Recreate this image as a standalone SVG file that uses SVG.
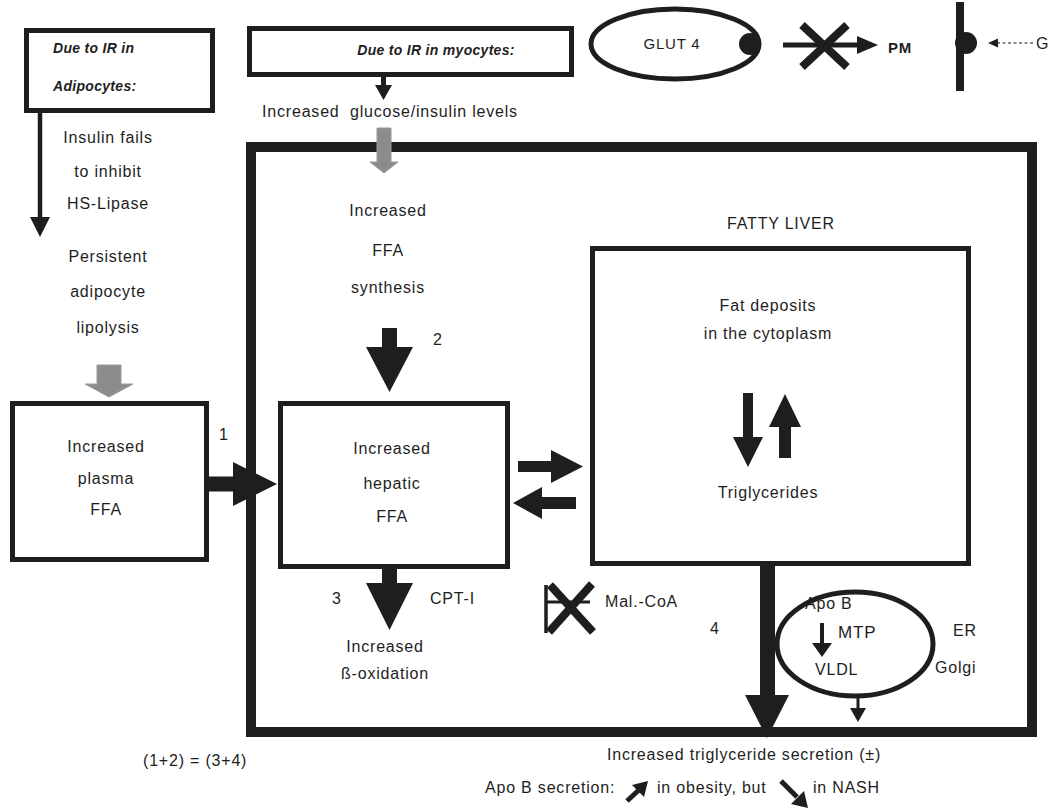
<svg xmlns="http://www.w3.org/2000/svg" width="1052" height="808" viewBox="0 0 1052 808">
<style>
.t{font-family:"Liberation Sans",Arial,Helvetica,sans-serif;font-size:16px;fill:#1e1e1e;letter-spacing:0.8px}
.c{text-anchor:middle}
.h{font-family:"Liberation Sans",Arial,Helvetica,sans-serif;font-size:14px;font-weight:bold;font-style:italic;fill:#1e1e1e;letter-spacing:0.3px}
.b{font-weight:bold}
.box{fill:none;stroke:#1e1e1e;stroke-width:5}
.blk{fill:#1e1e1e;stroke:none}
.gry{fill:#8c8c8c;stroke:#9a9a9a;stroke-width:1}
.ln{stroke:#1e1e1e;fill:none}
</style>
<rect width="1052" height="808" fill="#ffffff"/>

<g id="adipocytes">
<rect class="box" x="26.5" y="30.5" width="186" height="80"/>
<text class="h" x="53" y="53">Due to IR in</text>
<text class="h" x="53" y="91">Adipocytes:</text>
</g>

<g id="adipocyte-notes">
<text class="t c" x="108" y="143">Insulin fails</text>
<text class="t c" x="108" y="177">to inhibit</text>
<text class="t c" x="108" y="209">HS-Lipase</text>
<text class="t c" x="108" y="262">Persistent</text>
<text class="t c" x="108" y="297">adipocyte</text>
<text class="t c" x="108" y="333">lipolysis</text>
</g>

<g id="myocytes">
<rect class="box" x="249.5" y="28.5" width="322" height="46"/>
<text class="h c" x="436" y="55">Due to IR in myocytes:</text>
</g>

<g id="glucose-insulin">
<text class="t c" x="390" y="117" xml:space="preserve">Increased  glucose/insulin levels</text>
</g>

<g id="glut4">
<ellipse cx="675" cy="44" rx="84" ry="35" fill="none" stroke="#1e1e1e" stroke-width="5"/>
<circle cx="750" cy="44" r="11" fill="#1e1e1e"/>
<text class="t c" x="672" y="49" style="font-size:15px">GLUT 4</text>
</g>

<g id="pm">
<text class="t b" x="888" y="53" style="font-size:15px">PM</text>
</g>

<g id="membrane">
<rect x="956" y="2" width="8" height="89" fill="#1e1e1e"/>
<circle cx="966" cy="43" r="11" fill="#1e1e1e"/>
<line class="ln" x1="1033" y1="43" x2="996" y2="43" stroke-width="1.2" stroke-dasharray="3,2.5"/>
<polygon class="blk" points="988,43 998,38.5 998,47.5"/>
<text class="t" x="1036" y="49">G</text>
</g>

<g id="liver">
<rect x="251" y="147" width="781" height="585" fill="none" stroke="#1e1e1e" stroke-width="10"/>
</g>

<g id="ffa-synthesis">
<text class="t c" x="388" y="216">Increased</text>
<text class="t c" x="388" y="256">FFA</text>
<text class="t c" x="388" y="293">synthesis</text>
</g>

<g id="plasma-ffa">
<rect class="box" x="12.5" y="403.5" width="194" height="156"/>
<text class="t c" x="106" y="452">Increased</text>
<text class="t c" x="106" y="484">plasma</text>
<text class="t c" x="106" y="515">FFA</text>
</g>

<g id="hepatic-ffa">
<rect class="box" x="280.5" y="403.5" width="227" height="163"/>
<text class="t c" x="392" y="454">Increased</text>
<text class="t c" x="392" y="489">hepatic</text>
<text class="t c" x="392" y="522">FFA</text>
</g>

<g id="fatty-liver">
<text class="t c" x="781" y="229">FATTY LIVER</text>
<rect class="box" x="592.5" y="248.5" width="376" height="315"/>
<text class="t c" x="768" y="311">Fat deposits</text>
<text class="t c" x="768" y="339">in the cytoplasm</text>
<polygon class="blk" points="743,393 753,393 753,437 763,437 748,467 733,437 743,437"/>
<polygon class="blk" points="779,458 791,458 791,427 801,427 785,394 769,427 779,427"/>
<text class="t c" x="768" y="498">Triglycerides</text>
</g>

<g id="beta-oxidation">
<text class="t c" x="385" y="652">Increased</text>
<text class="t c" x="385" y="679">ß-oxidation</text>
</g>

<g id="mal-coa">
<line class="ln" x1="546" y1="585" x2="546" y2="633" stroke-width="3.5"/>
<line class="ln" x1="546" y1="602" x2="590" y2="602" stroke-width="3"/>
<line class="ln" x1="550" y1="585" x2="593" y2="632" stroke-width="8"/>
<line class="ln" x1="592" y1="584" x2="549" y2="632" stroke-width="8"/>
<text class="t" x="605" y="607">Mal.-CoA</text>
</g>

<g id="er-golgi">
<ellipse cx="855" cy="644" rx="78" ry="52" fill="none" stroke="#1e1e1e" stroke-width="5"/>
<text class="t" x="805" y="609">Apo B</text>
<polygon class="blk" points="820,623 824,623 824,643 832,643 822,657 812,643 820,643"/>
<text class="t" x="838" y="638" style="font-size:17px">MTP</text>
<text class="t" x="815" y="675">VLDL</text>
<text class="t" x="953" y="636">ER</text>
<text class="t" x="935" y="673">Golgi</text>
</g>

<g id="connectors">
<line class="ln" x1="40" y1="113" x2="40" y2="219" stroke-width="4.5"/>
<polygon class="blk" points="30,217 50,217 40,237"/>
<polygon class="blk" points="381,77 386,77 386,85 392,85 383.5,100 375,85 381,85"/>
<polygon class="gry" points="377,128 391,128 391,162 398,162 384,173 370,162 377,162"/>
<polygon class="gry" points="97,365 121,365 121,384 133,384 109,397 85,384 97,384"/>
<polygon class="blk" points="209,476.5 233,476.5 233,462 277,484 233,506 233,491.5 209,491.5"/>
<polygon class="blk" points="382,328 397,328 397,347 413,347 389.5,392 366,347 382,347"/>
<polygon class="blk" points="382,569 397,569 397,583 413,583 389.5,630 366,583 382,583"/>
<polygon class="blk" points="518,461 551,461 551,450 583,466.5 551,483 551,472 518,472"/>
<polygon class="blk" points="576,497 542,497 542,487 513,503 542,519 542,509 576,509"/>
<polygon class="blk" points="760,566 775,566 775,695 789,695 767,738 745,695 760,695"/>
<polygon class="blk" points="856.5,696 859.5,696 859.5,708 866,708 858,722 850,708 856.5,708"/>
<line class="ln" x1="783" y1="45" x2="860" y2="45" stroke-width="5"/>
<polygon class="blk" points="857,36 878,45 857,54"/>
<line class="ln" x1="802" y1="25" x2="847" y2="67" stroke-width="8"/>
<line class="ln" x1="847" y1="25" x2="802" y2="67" stroke-width="8"/>
</g>

<g id="labels">
<text class="t" x="219" y="440">1</text>
<text class="t" x="433" y="345">2</text>
<text class="t" x="332" y="604">3</text>
<text class="t" x="430" y="604">CPT-I</text>
<text class="t" x="710" y="634">4</text>
</g>

<g id="footer">
<text class="t c" x="744" y="760">Increased triglyceride secretion (±)</text>
<text class="t" x="143" y="766">(1+2) = (3+4)</text>
<text class="t" x="485" y="793">Apo B secretion:</text>
<line class="ln" x1="627" y1="801" x2="640" y2="789" stroke-width="5"/>
<polygon class="blk" points="648,781 632,785 644,797"/>
<text class="t" x="657" y="793">in obesity, but</text>
<line class="ln" x1="781" y1="781" x2="797" y2="797" stroke-width="5"/>
<polygon class="blk" points="808,808 804,791 791,804"/>
<text class="t" x="813" y="793">in NASH</text>
</g>
</svg>
